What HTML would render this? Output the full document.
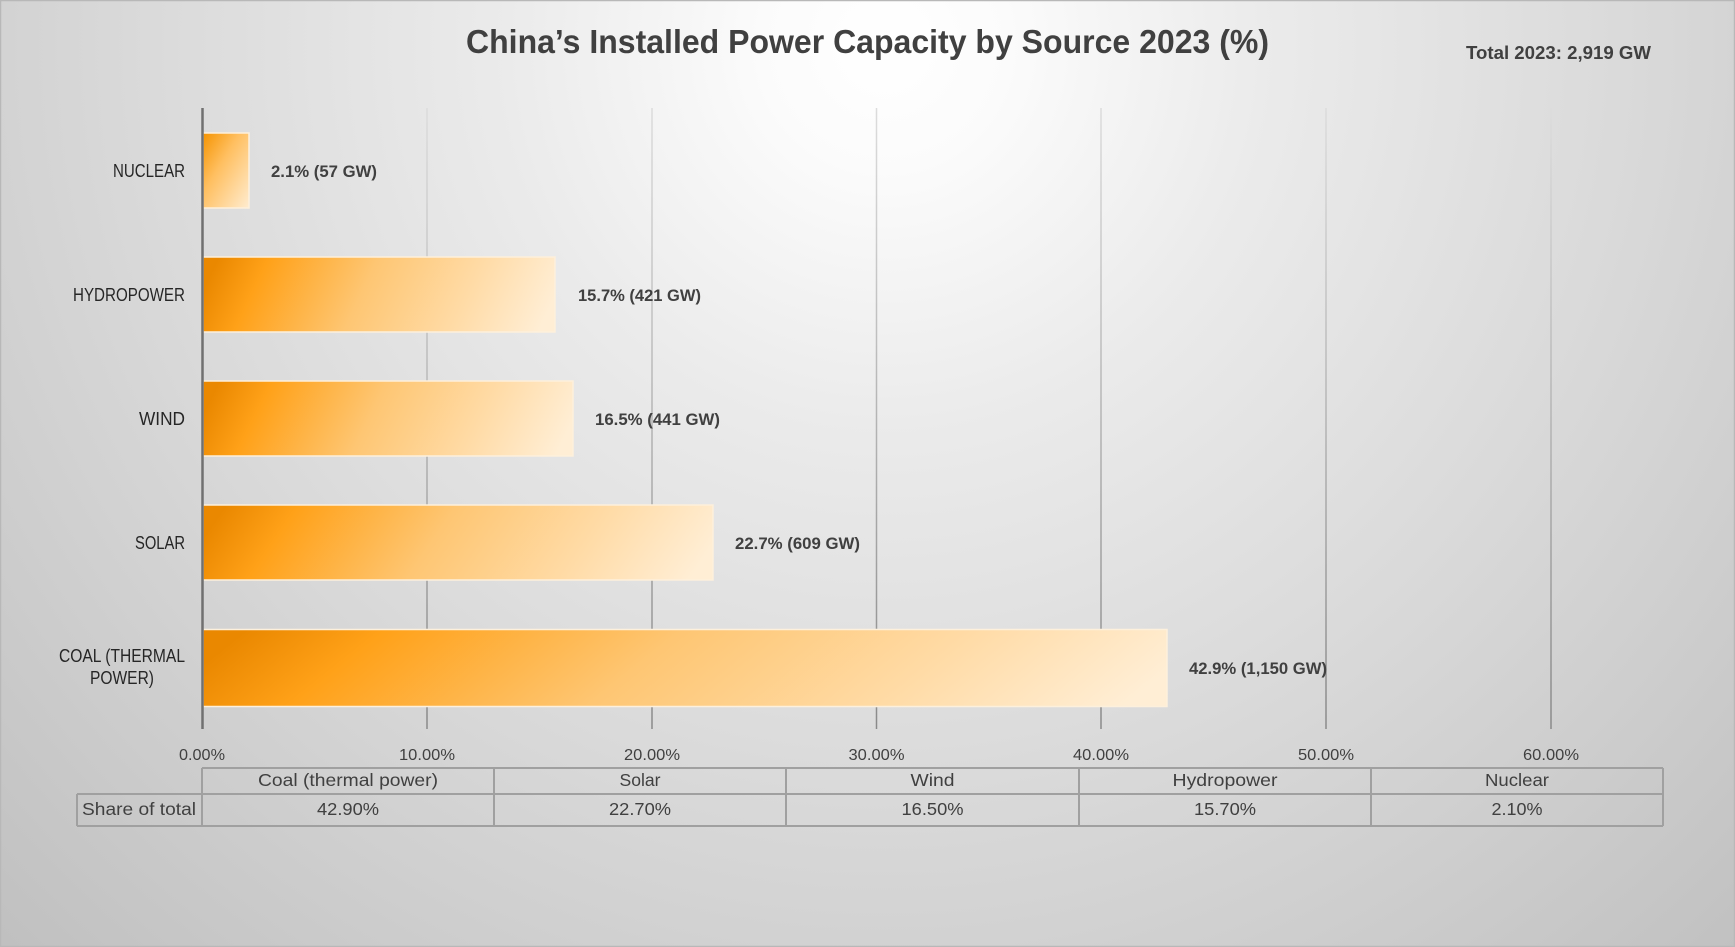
<!DOCTYPE html>
<html>
<head>
<meta charset="utf-8">
<style>
  html, body { margin:0; padding:0; background:#d0d0d0; }
  body { width:1735px; height:947px; overflow:hidden; }
  svg { display:block; }
  text { font-family: "Liberation Sans", "DejaVu Sans", sans-serif; }
</style>
</head>
<body>
<svg width="1735" height="947" viewBox="0 0 1735 947" xmlns="http://www.w3.org/2000/svg">
  <defs>
    <radialGradient id="bg" gradientUnits="userSpaceOnUse" cx="885" cy="45" r="1260">
      <stop offset="0" stop-color="#ffffff"/>
      <stop offset="0.1" stop-color="#fbfbfb"/>
      <stop offset="0.3" stop-color="#ebebeb"/>
      <stop offset="0.6" stop-color="#d9d9d9"/>
      <stop offset="1" stop-color="#c0c0c0"/>
    </radialGradient>
    <linearGradient id="grid" gradientUnits="userSpaceOnUse" x1="0" y1="108" x2="0" y2="729">
      <stop offset="0" stop-color="#dcdcdc"/>
      <stop offset="0.5" stop-color="#b4b4b4"/>
      <stop offset="1" stop-color="#8a8a8a"/>
    </linearGradient>
    <linearGradient id="barG" x1="0" y1="0.45" x2="1" y2="0.55">
      <stop offset="0" stop-color="#ea8800"/>
      <stop offset="0.14" stop-color="#ffa118"/>
      <stop offset="0.45" stop-color="#fec673"/>
      <stop offset="0.75" stop-color="#ffdba6"/>
      <stop offset="1" stop-color="#ffeed5"/>
    </linearGradient>
    <linearGradient id="barN" x1="0" y1="0" x2="1" y2="1">
      <stop offset="0" stop-color="#f59300"/>
      <stop offset="0.4" stop-color="#ffbf60"/>
      <stop offset="1" stop-color="#ffecd0"/>
    </linearGradient>
  </defs>

  <!-- background -->
  <rect x="0" y="0" width="1735" height="947" fill="url(#bg)"/>
  <rect x="0.5" y="0.5" width="1734" height="946" fill="none" stroke="#b8b8b8" stroke-width="1.5"/>

  <!-- title -->
  <text x="466" y="53" font-size="33" font-weight="bold" fill="#404040" textLength="803" lengthAdjust="spacingAndGlyphs">China’s Installed Power Capacity by Source 2023 (%)</text>
  <text x="1466" y="59" font-size="18" font-weight="bold" fill="#404040" textLength="185" lengthAdjust="spacingAndGlyphs">Total 2023: 2,919 GW</text>

  <!-- gridlines -->
  <g stroke="url(#grid)" stroke-width="1.5">
    <line x1="427" y1="108" x2="427" y2="729"/>
    <line x1="652" y1="108" x2="652" y2="729"/>
    <line x1="876.5" y1="108" x2="876.5" y2="729"/>
    <line x1="1101" y1="108" x2="1101" y2="729"/>
    <line x1="1326" y1="108" x2="1326" y2="729"/>
    <line x1="1551" y1="108" x2="1551" y2="729"/>
  </g>

  <!-- bars -->
  <g stroke="#fdf0dc" stroke-width="1.5">
    <rect x="203" y="133" width="46" height="75" fill="url(#barN)"/>
    <rect x="203" y="257" width="352" height="75" fill="url(#barG)"/>
    <rect x="203" y="381" width="370" height="75" fill="url(#barG)"/>
    <rect x="203" y="505" width="510" height="75" fill="url(#barG)"/>
    <rect x="203" y="629.5" width="964" height="77" fill="url(#barG)"/>
  </g>

  <!-- axis line -->
  <line x1="202.5" y1="108" x2="202.5" y2="729" stroke="#707070" stroke-width="2.5"/>

  <!-- category labels -->
  <g font-size="18" fill="#262626">
    <text x="185" y="177" text-anchor="end" textLength="72" lengthAdjust="spacingAndGlyphs">NUCLEAR</text>
    <text x="185" y="301" text-anchor="end" textLength="112" lengthAdjust="spacingAndGlyphs">HYDROPOWER</text>
    <text x="185" y="425" text-anchor="end" textLength="46" lengthAdjust="spacingAndGlyphs">WIND</text>
    <text x="185" y="549" text-anchor="end" textLength="50" lengthAdjust="spacingAndGlyphs">SOLAR</text>
    <text x="122" y="662" text-anchor="middle" textLength="126" lengthAdjust="spacingAndGlyphs">COAL (THERMAL</text>
    <text x="122" y="684" text-anchor="middle" textLength="64" lengthAdjust="spacingAndGlyphs">POWER)</text>
  </g>

  <!-- data labels -->
  <g font-size="16.5" font-weight="bold" fill="#404040">
    <text x="271" y="177" textLength="106" lengthAdjust="spacingAndGlyphs">2.1% (57 GW)</text>
    <text x="578" y="301" textLength="123" lengthAdjust="spacingAndGlyphs">15.7% (421 GW)</text>
    <text x="595" y="425" textLength="125" lengthAdjust="spacingAndGlyphs">16.5% (441 GW)</text>
    <text x="735" y="549" textLength="125" lengthAdjust="spacingAndGlyphs">22.7% (609 GW)</text>
    <text x="1189" y="674" textLength="138" lengthAdjust="spacingAndGlyphs">42.9% (1,150 GW)</text>
  </g>

  <!-- tick labels -->
  <g font-size="16" fill="#404040" text-anchor="middle">
    <text x="202" y="760" textLength="46" lengthAdjust="spacingAndGlyphs">0.00%</text>
    <text x="427" y="760" textLength="56" lengthAdjust="spacingAndGlyphs">10.00%</text>
    <text x="652" y="760" textLength="56" lengthAdjust="spacingAndGlyphs">20.00%</text>
    <text x="876.5" y="760" textLength="56" lengthAdjust="spacingAndGlyphs">30.00%</text>
    <text x="1101" y="760" textLength="56" lengthAdjust="spacingAndGlyphs">40.00%</text>
    <text x="1326" y="760" textLength="56" lengthAdjust="spacingAndGlyphs">50.00%</text>
    <text x="1551" y="760" textLength="56" lengthAdjust="spacingAndGlyphs">60.00%</text>
  </g>

  <!-- data table -->
  <g stroke="#a0a0a0" stroke-width="2" fill="none">
    <line x1="202" y1="768" x2="1663" y2="768"/>
    <line x1="77" y1="794" x2="1663" y2="794"/>
    <line x1="77" y1="826" x2="1663" y2="826"/>
    <line x1="77" y1="794" x2="77" y2="826"/>
    <line x1="202" y1="768" x2="202" y2="826"/>
    <line x1="494" y1="768" x2="494" y2="826"/>
    <line x1="786" y1="768" x2="786" y2="826"/>
    <line x1="1079" y1="768" x2="1079" y2="826"/>
    <line x1="1371" y1="768" x2="1371" y2="826"/>
    <line x1="1663" y1="768" x2="1663" y2="826"/>
  </g>
  <g font-size="17.5" fill="#404040" text-anchor="middle">
    <text x="348" y="786" textLength="180" lengthAdjust="spacingAndGlyphs">Coal (thermal power)</text>
    <text x="640" y="786" textLength="41" lengthAdjust="spacingAndGlyphs">Solar</text>
    <text x="932.5" y="786" textLength="44" lengthAdjust="spacingAndGlyphs">Wind</text>
    <text x="1225" y="786" textLength="105" lengthAdjust="spacingAndGlyphs">Hydropower</text>
    <text x="1517" y="786" textLength="64" lengthAdjust="spacingAndGlyphs">Nuclear</text>

    <text x="139" y="815" textLength="114" lengthAdjust="spacingAndGlyphs">Share of total</text>
    <text x="348" y="815" textLength="62" lengthAdjust="spacingAndGlyphs">42.90%</text>
    <text x="640" y="815" textLength="62" lengthAdjust="spacingAndGlyphs">22.70%</text>
    <text x="932.5" y="815" textLength="62" lengthAdjust="spacingAndGlyphs">16.50%</text>
    <text x="1225" y="815" textLength="62" lengthAdjust="spacingAndGlyphs">15.70%</text>
    <text x="1517" y="815" textLength="51" lengthAdjust="spacingAndGlyphs">2.10%</text>
  </g>
</svg>
</body>
</html>
